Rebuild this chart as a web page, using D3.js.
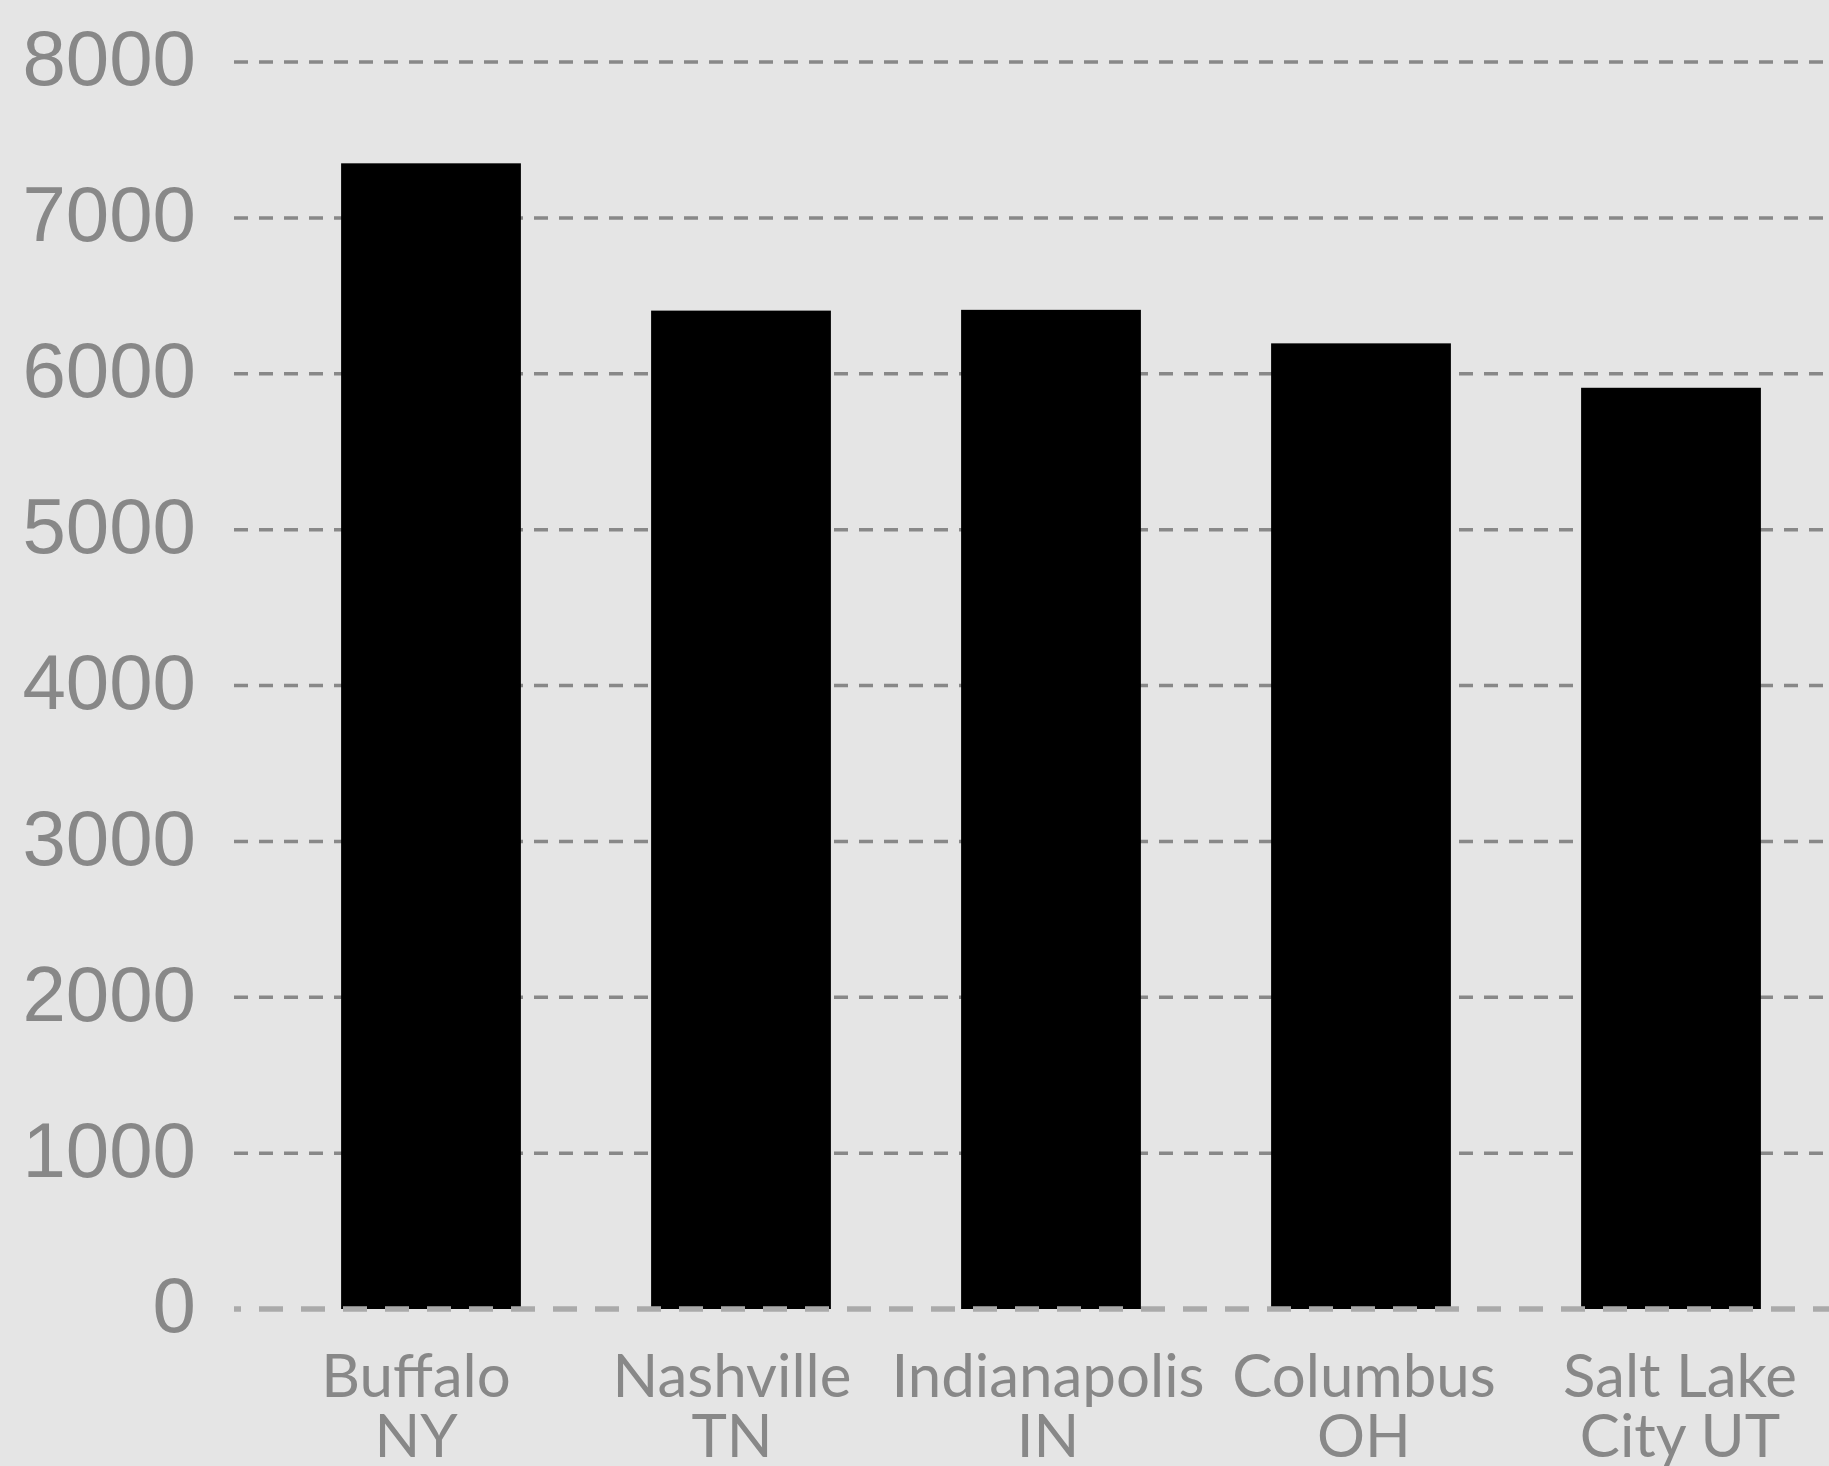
<!DOCTYPE html>
<html>
<head>
<meta charset="utf-8">
<script src="https://cdn.jsdelivr.net/npm/d3@7"></script>
<style>
  html, body { margin: 0; padding: 0; background: #e5e5e5; }
  svg { display: block; }
</style>
</head>
<body>
<div id="plot"></div>
<script>
// data
const cities = ["Buffalo NY", "Nashville TN", "Indianapolis IN", "Columbus OH", "Salt Lake City UT"];
const labelLines = [["Buffalo", "NY"], ["Nashville", "TN"], ["Indianapolis", "IN"], ["Columbus", "OH"], ["Salt Lake", "City UT"]];
const values = [7350, 6405, 6410, 6195, 5910];
const yTicks = [0, 1000, 2000, 3000, 4000, 5000, 6000, 7000, 8000];

const width = 1829, height = 1466;
const margin = { top: 62, bottom: 157, gridLeft: 234 };

const svg = d3.select("#plot")
  .append("svg")
  .attr("width", width)
  .attr("height", height);

svg.append("rect")
  .attr("width", width)
  .attr("height", height)
  .attr("fill", "#e5e5e5");

const x = d3.scaleBand()
  .domain(cities)
  .range([276, 1826])
  .paddingInner(0.42)
  .paddingOuter(0.21);

// category labels sit on their own, slightly wider spacing
const xLabel = d3.scalePoint()
  .domain(cities)
  .range([416, 1680]);

const y = d3.scaleLinear()
  .domain([0, 8000])
  .range([height - margin.bottom, margin.top]);

// gridlines (not the zero line)
svg.append("g")
  .selectAll("line")
  .data(yTicks.filter(d => d > 0))
  .join("line")
  .attr("x1", margin.gridLeft)
  .attr("x2", width)
  .attr("y1", d => y(d))
  .attr("y2", d => y(d))
  .attr("stroke", "#888")
  .attr("stroke-width", 3.5)
  .attr("stroke-dasharray", "14 11");

// y tick labels
svg.append("g")
  .selectAll("text")
  .data(yTicks)
  .join("text")
  .attr("x", 196)
  .attr("y", d => y(d))
  .attr("dy", "0.3em")
  .attr("text-anchor", "end")
  .attr("font-family", "'Liberation Sans', Arial, sans-serif")
  .attr("font-size", 78)
  .attr("fill", "#888")
  .text(d => d);

// bars
svg.append("g")
  .selectAll("rect")
  .data(values)
  .join("rect")
  .attr("x", (d, i) => x(cities[i]))
  .attr("width", x.bandwidth())
  .attr("y", d => y(d))
  .attr("height", d => y(0) - y(d))
  .attr("fill", "#000");

// zero line on top
svg.append("line")
  .attr("x1", margin.gridLeft)
  .attr("x2", width)
  .attr("y1", y(0))
  .attr("y2", y(0))
  .attr("stroke", "#aaa")
  .attr("stroke-width", 5.5)
  .attr("stroke-dasharray", "24 18")
  .attr("stroke-dashoffset", 17);

// x labels, two lines each
const labels = svg.append("g")
  .selectAll("text")
  .data(cities)
  .join("text")
  .attr("text-anchor", "middle")
  .attr("font-family", "Lato, sans-serif")
  .attr("font-size", 60)
  .attr("fill", "#888");

labels.selectAll("tspan")
  .data((d, i) => labelLines[i].map(t => ({ t, c: d })))
  .join("tspan")
  .attr("x", d => xLabel(d.c))
  .attr("y", (d, j) => y(0) + 88 + j * 60)
  .text(d => d.t);
</script>
</body>
</html>
